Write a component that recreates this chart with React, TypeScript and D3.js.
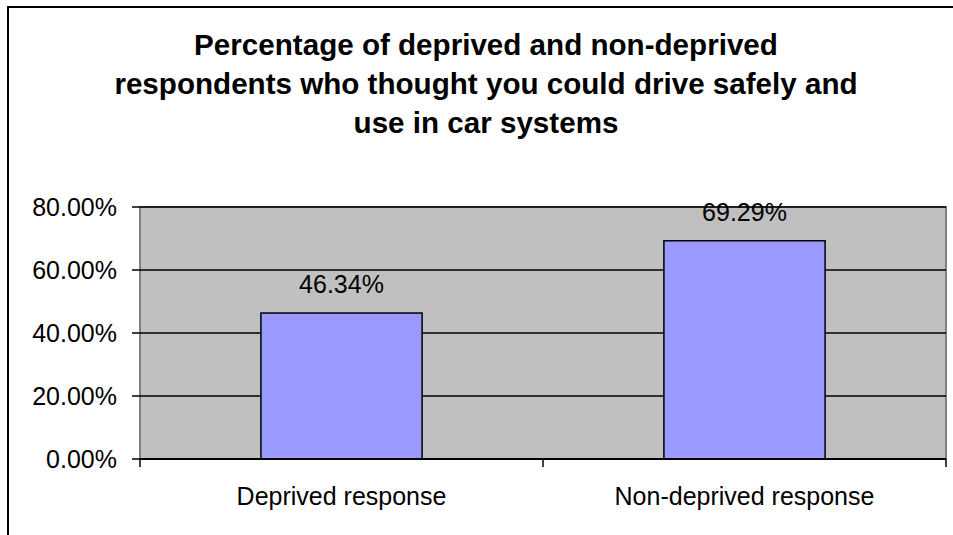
import React from "react";
import * as d3 from "d3";

const categories = ["Deprived response", "Non-deprived response"];
const values = [46.34, 69.29];
const yTicks = [0, 20, 40, 60, 80];
const titleLines = [
  "Percentage of deprived and non-deprived",
  "respondents who thought you could drive safely and",
  "use in car systems",
];

const W = 953;
const H = 535;
const plot = { left: 140, right: 946, top: 207, bottom: 459 };
const FONT = "'Liberation Sans', Arial, sans-serif";

export default function App() {
  const x = d3
    .scaleBand<string>()
    .domain(categories)
    .range([plot.left, plot.right])
    .paddingInner(0.6)
    .paddingOuter(0.3);
  const xOuter = d3.scaleBand<string>().domain(categories).range([plot.left, plot.right]);
  const y = d3.scaleLinear().domain([0, 80]).range([plot.bottom, plot.top]);
  const fmt = (v: number) => v.toFixed(2) + "%";

  return (
    <svg
      width={W}
      height={H}
      style={{ position: "absolute", left: 0, top: 0, background: "#fff" }}
      fontFamily={FONT}
    >
      <rect x={8} y={7} width={1000} height={600} fill="#fff" stroke="#000" strokeWidth={2} />
      {titleLines.map((t, i) => (
        <text
          key={i}
          x={486}
          y={55 + i * 39}
          textAnchor="middle"
          fontWeight="bold"
          fontSize={29.6}
          fill="#000"
        >
          {t}
        </text>
      ))}
      <rect
        x={plot.left}
        y={plot.top}
        width={plot.right - plot.left}
        height={plot.bottom - plot.top}
        fill="#C0C0C0"
        stroke="#808080"
        strokeWidth={2}
      />
      {yTicks.map((t) => (
        <g key={t}>
          {t > 0 && (
            <line x1={plot.left} x2={plot.right} y1={y(t)} y2={y(t)} stroke="#000" strokeWidth={1.5} />
          )}
          <line x1={plot.left - 8} x2={plot.left} y1={y(t)} y2={y(t)} stroke="#000" strokeWidth={1.5} />
          <text x={117} y={y(t) + 9} textAnchor="end" fontSize={25} fill="#000">
            {fmt(t)}
          </text>
        </g>
      ))}
      {categories.map((c, i) => (
        <g key={c}>
          <rect
            x={x(c)}
            y={y(values[i])}
            width={x.bandwidth()}
            height={plot.bottom - y(values[i])}
            fill="#9999FF"
            stroke="#000"
            strokeWidth={1.5}
          />
          <text
            x={(x(c) as number) + x.bandwidth() / 2}
            y={y(values[i]) - 20}
            textAnchor="middle"
            fontSize={25}
            fill="#000"
          >
            {fmt(values[i])}
          </text>
          <text
            x={(xOuter(c) as number) + xOuter.bandwidth() / 2}
            y={505}
            textAnchor="middle"
            fontSize={25}
            fill="#000"
          >
            {c}
          </text>
        </g>
      ))}
      <line x1={plot.left} x2={plot.right} y1={plot.bottom} y2={plot.bottom} stroke="#000" strokeWidth={2} />
      {[0, 1, 2].map((k) => {
        const xx = plot.left + k * xOuter.step();
        return (
          <line key={k} x1={xx} x2={xx} y1={plot.bottom} y2={plot.bottom + 8} stroke="#000" strokeWidth={1.5} />
        );
      })}
    </svg>
  );
}
